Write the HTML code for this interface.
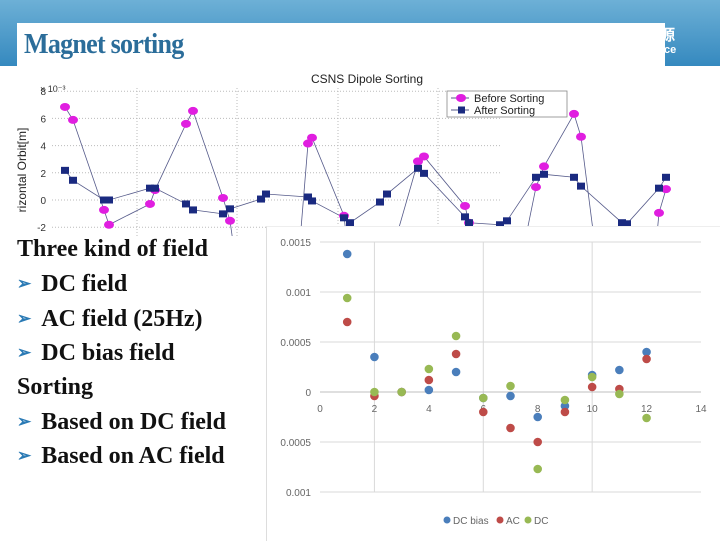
<!DOCTYPE html>
<html><head><meta charset="utf-8"><style>
body{margin:0;width:720px;height:540px;overflow:hidden;background:#fff;position:relative;font-family:"Liberation Sans",sans-serif}
#band{position:absolute;left:0;top:0;width:720px;height:66px;background:linear-gradient(#6db0d6,#3589bf)}
#titlebox{position:absolute;left:17px;top:23px;width:648px;height:45px;background:#fff}
#title{position:absolute;left:24px;top:29px;font:bold 28px "Liberation Serif",serif;color:#2b6d9a;letter-spacing:-0.8px;transform:scaleX(0.93);transform-origin:left}
.side{position:absolute;color:#fff;font-weight:bold}
#text{position:absolute;left:0;top:236px;width:265px;height:304px;background:#fff}
.ln{position:absolute;left:17px;font:bold 24px "Liberation Serif",serif;color:#111;white-space:nowrap}
.ar{color:#2a7ab5;font-size:17px;margin-right:10px;vertical-align:2px}
#panel{position:absolute;left:266px;top:226px;width:454px;height:314px;background:#fff;border-left:1px solid #ddd;border-top:1px solid #eee}
</style></head><body>
<div id="band"></div>
<div class="side" style="left:660px;top:24px;font-size:15px">源</div>
<div class="side" style="left:664px;top:44px;font-size:11px">ce</div>
<div id="titlebox"></div>
<div id="title">Magnet sorting</div>

<svg id="top" width="720" height="236" style="position:absolute;left:0;top:0"></svg>

<div id="text">
<div class="ln" style="top:0px">Three kind of field</div>
<div class="ln" style="top:35px"><span class="ar">➢</span>DC field</div>
<div class="ln" style="top:70px"><span class="ar">➢</span>AC field (25Hz)</div>
<div class="ln" style="top:104px"><span class="ar">➢</span>DC bias field</div>
<div class="ln" style="top:138px">Sorting</div>
<div class="ln" style="top:173px"><span class="ar">➢</span>Based on DC field</div>
<div class="ln" style="top:207px"><span class="ar">➢</span>Based on AC field</div>
</div>

<div id="panel"></div>
<svg id="sc" width="720" height="540" style="position:absolute;left:0;top:0"></svg>

<script>
// ---- top chart data ----
const beforeS=[5,13,44,49,90,95,126,133,163,170,190,230,248,252,284,300,358,364,405,409,440,476,484,514,521,550,585,599,606];
const beforeY=[6.84,5.89,-0.73,-1.82,-0.29,0.73,5.6,6.55,0.15,-1.53,-12,-12,4.15,4.58,-1.16,-12,2.84,3.2,-0.44,-1.67,-12,0.95,2.47,6.33,4.65,-12,-12,-0.95,0.8];
const afterS=[5,13,44,49,90,95,126,133,163,170,201,206,248,252,284,290,320,327,358,364,405,409,440,447,476,484,514,521,562,567,599,606];
const afterY=[2.18,1.45,0,0,0.87,0.87,-0.29,-0.73,-1.02,-0.65,0.07,0.44,0.22,-0.07,-1.31,-1.67,-0.15,0.44,2.33,1.96,-1.24,-1.67,-1.82,-1.53,1.67,1.89,1.67,1.02,-1.67,-1.75,0.87,1.67];
const topYTicks=[8,6,4,2,0,-2];
// ---- scatter data ----
const catX=[1,2,3,4,5,6,7,8,9,10,11,12];
const dcBias=[0.00138,0.00035,0,0.00002,0.0002,-0.00006,-0.00004,-0.00025,-0.00014,0.00017,0.00022,0.0004];
const acVals=[0.0007,-0.00004,0,0.00012,0.00038,-0.0002,-0.00036,-0.0005,-0.0002,0.00005,0.00003,0.00033];
const dcVals=[0.00094,0,0,0.00023,0.00056,-0.00006,0.00006,-0.00077,-0.00008,0.00015,-0.00002,-0.00026];
const scYTicks=[0.0015,0.001,0.0005,0,-0.0005,-0.001];
const scYLabels=["0.0015","0.001","0.0005","0","0.0005","0.001"];
const scXTicks=[0,2,4,6,8,10,12,14];

const NS="http://www.w3.org/2000/svg";
function mk(p,t,a,txt){const e=document.createElementNS(NS,t);for(const k in a)e.setAttribute(k,a[k]);if(txt!==undefined)e.textContent=txt;p.appendChild(e);return e;}

// top chart
const T=document.getElementById('top');
const tx=s=>60+s, ty=v=>200-v*13.6;
mk(T,'text',{x:367,y:83,'text-anchor':'middle','font-size':12,fill:'#222',},'CSNS Dipole Sorting');
mk(T,'text',{x:40,y:92,'font-size':9,fill:'#333',},'× 10⁻³');
[137,237,338,438].forEach(x=>{const g=mk(T,'line',{x1:x,x2:x,y1:88,y2:236,stroke:'#bbb','stroke-dasharray':'1,2'});});
topYTicks.forEach(v=>{
 const g=mk(T,'line',{x1:52,x2:500,y1:ty(v),y2:ty(v),stroke:'#bbb','stroke-dasharray':'1,2'});
 
 
 const l=mk(T,'text',{x:46,y:ty(v)+4,'text-anchor':'end','font-size':10,fill:'#333'},String(v));
 
 
});
mk(T,'text',{x:0,y:0,transform:'translate(26,170) rotate(-90)','text-anchor':'middle','font-size':12,fill:'#222',},'rizontal Orbit[m]');
mk(T,'polyline',{points:beforeS.map((s,i)=>tx(s)+','+ty(beforeY[i])).join(' '),fill:'none',stroke:'#555a8a','stroke-width':0.8,});
mk(T,'polyline',{points:afterS.map((s,i)=>tx(s)+','+ty(afterY[i])).join(' '),fill:'none',stroke:'#555a8a','stroke-width':0.8,});
beforeS.forEach((s,i)=>{const c=mk(T,'ellipse',{cx:tx(s),cy:ty(beforeY[i]),rx:5,ry:4,fill:'#e01ee0'});});
afterS.forEach((s,i)=>{const r=mk(T,'rect',{x:tx(s)-4,y:ty(afterY[i])-3.5,width:8,height:7,fill:'#1a2a80'});});
const lg=mk(T,'g',{});
mk(lg,'rect',{x:447,y:91,width:120,height:26,fill:'#fff',stroke:'#888','stroke-width':0.8});
mk(lg,'line',{x1:451,x2:469,y1:98,y2:98,stroke:'#555a8a'});
mk(lg,'ellipse',{cx:461,cy:98,rx:5,ry:4,fill:'#e01ee0'});
mk(lg,'text',{x:474,y:102,'font-size':11,fill:'#222'},'Before Sorting');
mk(lg,'line',{x1:451,x2:469,y1:110,y2:110,stroke:'#555a8a'});
mk(lg,'rect',{x:458,y:106.5,width:7,height:7,fill:'#1a2a80'});
mk(lg,'text',{x:474,y:114,'font-size':11,fill:'#222'},'After Sorting');

// scatter
const S=document.getElementById('sc');
const sx=v=>320+v*(381/14), sy=v=>392-v*100000;
[2,6,10].forEach(v=>{const g=mk(S,'line',{x1:sx(v),x2:sx(v),y1:242,y2:492,stroke:'#d9d9d9'});});
scYTicks.forEach((v,i)=>{
 const g=mk(S,'line',{x1:320,x2:701,y1:sy(v),y2:sy(v),stroke:v===0?'#bfbfbf':'#d9d9d9'});
 
 
 const l=mk(S,'text',{x:311,y:sy(v)+4,'text-anchor':'end','font-size':10,fill:'#666'},scYLabels[i]);
 
 
});
scXTicks.forEach(v=>{const l=mk(S,'text',{x:sx(v),y:412,'text-anchor':'middle','font-size':10,fill:'#666'},String(v));});
function series(vals,col,name){vals.forEach((v,i)=>{const c=mk(S,'circle',{cx:sx(catX[i]),cy:sy(v),r:4.3,fill:col});});}
series(dcBias,'#4a7ebb','dc-bias-point');
series(acVals,'#be4b48','ac-point');
series(dcVals,'#98b954','dc-point');
const sl=mk(S,'g',{});
[['#4a7ebb','DC bias',447],['#be4b48','AC',500],['#98b954','DC',528]].forEach(([c,t,x])=>{mk(sl,'circle',{cx:x,cy:520,r:3.5,fill:c});mk(sl,'text',{x:x+6,y:524,'font-size':10,fill:'#666'},t);});
</script>
</body></html>
